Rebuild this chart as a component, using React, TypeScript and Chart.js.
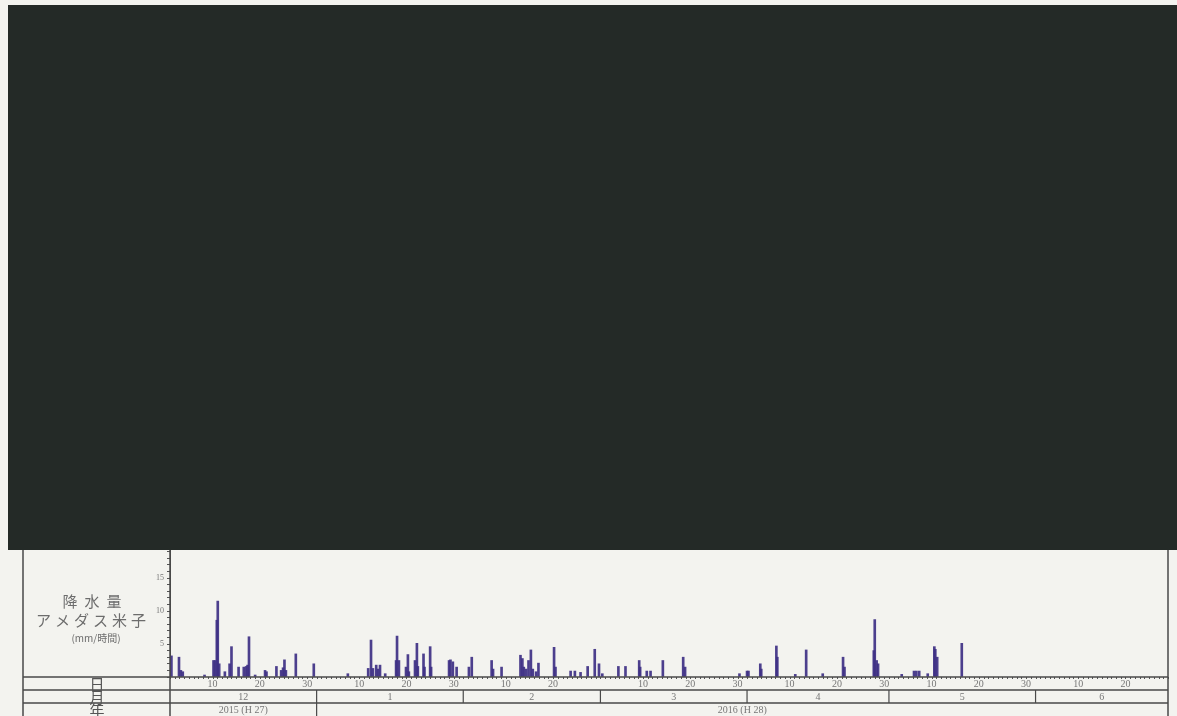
import React, { useEffect, useRef } from 'react';
import { Chart, registerables } from 'chart.js';

Chart.register(...registerables);

// ---- categories / labels ----
const monthLabels = ['12', '1', '2', '3', '4', '5', '6'];
const monthLengths = [31, 31, 29, 31, 30, 31, 28];
const yearLabels = ['2015 (H 27)', '2016 (H 28)'];
const yearMonthCounts = [1, 6];
const dayTickNumbers = [10, 20, 30];
const yTickLabels = [5, 10, 15];
const panelTitle = ['降水量', 'アメダス米子', '(mm/時間)'];
const rowHeaders = ['日', '月', '年'];

// ---- series: hourly precipitation (days since 2015-12-01 00:00, mm/h) ----
const rainDays = [
  0.3, 1.9, 2.3, 2.7, 7.3, 9.2, 9.5, 9.9, 10.1, 10.4, 11.6, 12.6, 13.0, 14.5,
  15.6, 16.1, 16.4, 16.7, 18.0, 20.1, 20.4, 22.5, 23.5, 23.9, 24.2, 24.5, 26.6,
  30.4, 37.6, 41.9, 42.5, 42.9, 43.6, 44.0, 44.4, 45.5, 47.8, 48.0, 48.4, 49.9,
  50.3, 50.5, 51.8, 52.2, 52.4, 53.6, 53.8, 55.0, 55.2, 59.0, 59.3, 59.8, 60.6,
  63.2, 63.8, 68.0, 68.3, 70.1, 74.1, 74.5, 74.8, 75.3, 75.8, 76.3, 76.7, 77.4,
  77.9, 81.2, 81.5, 84.7, 85.6, 86.8, 88.3, 89.8, 90.7, 91.4, 94.8, 96.3, 99.2,
  99.4, 100.8, 101.6, 104.2, 108.5, 108.9, 120.4, 122.0, 122.3, 124.8, 125.0,
  128.2, 128.4, 132.2, 134.5, 138.0, 142.3, 142.6, 148.8, 149.0, 149.4, 149.7,
  154.7, 157.3, 157.8, 158.4, 160.2, 161.6, 161.8, 162.2, 167.4,
];
const rainMm = [
  3.2, 3.0, 1.0, 0.8, 0.3, 2.5, 2.5, 8.6, 11.5, 2.0, 0.8, 2.0, 4.6, 1.5,
  1.5, 1.6, 1.8, 6.1, 0.3, 1.0, 0.8, 1.6, 1.0, 1.4, 2.6, 1.0, 3.5,
  2.0, 0.5, 1.3, 5.6, 1.3, 1.8, 1.2, 1.8, 0.5, 2.5, 6.2, 2.5, 1.5,
  3.4, 0.8, 2.5, 5.1, 1.6, 3.5, 1.5, 4.6, 1.5, 2.5, 2.6, 2.3, 1.5,
  1.5, 3.0, 2.5, 1.2, 1.5, 3.3, 2.8, 1.5, 1.2, 2.5, 4.1, 1.2, 0.8,
  2.1, 4.5, 1.5, 0.9, 0.9, 0.7, 1.6, 4.2, 2.0, 0.5, 1.6, 1.6, 2.5,
  1.5, 0.9, 0.9, 2.5, 3.0, 1.5, 0.5, 0.9, 0.9, 2.0, 1.2,
  4.7, 3.0, 0.4, 4.1, 0.5, 3.0, 1.5, 4.0, 8.7, 2.5, 2.0,
  0.4, 0.9, 0.9, 0.9, 0.5, 4.6, 4.2, 3.0, 5.1,
];

const monthStarts: number[] = [];
{
  let acc = 0;
  for (const len of monthLengths) {
    monthStarts.push(acc);
    acc += len;
  }
}
const totalDays = monthLengths.reduce((a, b) => a + b, 0);

const dayTickValues: number[] = [];
const dayTickText: string[] = [];
monthStarts.forEach((start, i) => {
  dayTickNumbers.forEach((d) => {
    if (d <= monthLengths[i]) {
      dayTickValues.push(start + d - 1);
      dayTickText.push(String(d));
    }
  });
});

const framePlugin = {
  id: 'framePlugin',
  beforeDraw(chart: any) {
    const ctx = chart.ctx;
    ctx.save();
    ctx.fillStyle = '#f3f3ef';
    ctx.fillRect(0, 0, chart.width, chart.height);
    ctx.restore();
  },
  afterDraw(chart: any) {
    const ctx = chart.ctx as CanvasRenderingContext2D;
    const area = chart.chartArea;
    const x = chart.scales.x;
    const L = 23;
    const R = area.right;
    const B = area.bottom;
    const rowH = 13;
    const H = chart.height;
    ctx.save();

    // day ticks along baseline
    ctx.strokeStyle = '#555';
    ctx.lineWidth = 1;
    for (let d = 0; d <= totalDays; d++) {
      const px = Math.round(x.getPixelForValue(d)) + 0.5;
      ctx.beginPath();
      ctx.moveTo(px, B);
      ctx.lineTo(px, B + 2);
      ctx.stroke();
    }

    // table lines
    ctx.strokeStyle = '#4a4a4a';
    ctx.lineWidth = 1.5;
    ctx.beginPath();
    [B, B + rowH, B + 2 * rowH].forEach((yy) => {
      ctx.moveTo(L, yy);
      ctx.lineTo(R, yy);
    });
    ctx.moveTo(L, area.top);
    ctx.lineTo(L, H);
    ctx.moveTo(area.left, area.top);
    ctx.lineTo(area.left, H);
    ctx.moveTo(R, area.top);
    ctx.lineTo(R, H);
    ctx.stroke();

    // month dividers
    ctx.lineWidth = 1.2;
    ctx.beginPath();
    monthStarts.forEach((s, i) => {
      if (i === 0) return;
      const px = x.getPixelForValue(s);
      ctx.moveTo(px, B + rowH);
      ctx.lineTo(px, B + 2 * rowH);
    });
    let ym = 0;
    yearMonthCounts.forEach((cnt, i) => {
      if (i > 0) {
        const px = x.getPixelForValue(monthStarts[ym]);
        ctx.moveTo(px, B + 2 * rowH);
        ctx.lineTo(px, H);
      }
      ym += cnt;
    });
    ctx.stroke();

    ctx.fillStyle = '#777';
    ctx.textAlign = 'center';
    ctx.textBaseline = 'middle';
    ctx.font = '10px "Liberation Serif", serif';
    // day labels
    dayTickValues.forEach((v, i) => {
      ctx.fillText(dayTickText[i], x.getPixelForValue(v), B + rowH * 0.5 + 1);
    });
    // month labels
    monthLabels.forEach((m, i) => {
      const c = x.getPixelForValue(monthStarts[i] + monthLengths[i] / 2);
      ctx.fillText(m, c, B + rowH * 1.5 + 0.5);
    });
    // year labels
    ym = 0;
    yearLabels.forEach((yl, i) => {
      const s = monthStarts[ym];
      const e = ym + yearMonthCounts[i] < monthStarts.length ? monthStarts[ym + yearMonthCounts[i]] : totalDays;
      const c = x.getPixelForValue((s + e) / 2);
      ctx.fillText(yl, c, B + rowH * 2.5 + 0.5);
      ym += yearMonthCounts[i];
    });

    // row headers
    ctx.fillStyle = '#555';
    ctx.font = '15px "Noto Sans CJK JP", sans-serif';
    rowHeaders.forEach((h, i) => {
      ctx.fillText(h, 97, B + rowH * (i + 0.5) + 0.5);
    });

    // panel title with letter spacing
    const drawSpaced = (text: string, cx: number, cy: number, font: string, spacing: number) => {
      ctx.font = font;
      const chars = Array.from(text);
      const widths = chars.map((c) => ctx.measureText(c).width);
      const total = widths.reduce((a, b) => a + b, 0) + spacing * (chars.length - 1);
      let px = cx - total / 2;
      ctx.textAlign = 'left';
      chars.forEach((c, i) => {
        ctx.fillText(c, px, cy);
        px += widths[i] + spacing;
      });
    };
    ctx.fillStyle = '#6c6c6c';
    drawSpaced(panelTitle[0], 92, 601, '15px "Noto Sans CJK JP", sans-serif', 7);
    drawSpaced(panelTitle[1], 91, 620, '15px "Noto Sans CJK JP", sans-serif', 4);
    drawSpaced(panelTitle[2], 96, 638, '10px "Noto Sans CJK JP", sans-serif', 0);

    // redacted dark block
    ctx.fillStyle = '#242a27';
    ctx.fillRect(8, 5, chart.width - 8, 545);
    ctx.restore();
  },
};

export default function App() {
  const ref = useRef<HTMLCanvasElement | null>(null);
  useEffect(() => {
    if (!ref.current) return;
    const chart = new Chart(ref.current, {
      type: 'bar',
      data: {
        datasets: [
          {
            label: '降水量',
            data: rainDays.map((d, i) => ({ x: d, y: rainMm[i] })),
            backgroundColor: 'rgba(62,48,132,0.92)',
            borderWidth: 0,
            barThickness: 2,
            grouped: false,
          } as any,
        ],
      },
      options: {
        animation: false,
        responsive: false,
        devicePixelRatio: 1,
        layout: { padding: { left: 150, top: 545, right: 9, bottom: 26 } },
        plugins: { legend: { display: false }, tooltip: { enabled: false } },
        scales: {
          x: {
            type: 'linear',
            offset: false,
            min: 0,
            max: totalDays,
            grid: { display: false, offset: false },
            border: { display: false },
            afterFit: (axis: any) => {
              axis.height = 13;
            },
            ticks: { display: false },
          },
          y: {
            min: 0,
            max: 20,
            afterFit: (axis: any) => {
              axis.width = 20;
            },
            grid: { drawOnChartArea: false, tickLength: 3, color: '#555' },
            border: { display: true, color: '#444', width: 1 },
            ticks: {
              stepSize: 1,
              autoSkip: false,
              padding: 3,
              color: '#777',
              font: { size: 8, family: '"Liberation Serif", serif' },
              callback: (v: any) => (yTickLabels.includes(v) ? String(v) : ''),
            },
          },
        },
      },
      plugins: [framePlugin],
    });
    return () => chart.destroy();
  }, []);
  return (
    <div style={{ position: 'absolute', left: 0, top: 0, width: 1177, height: 716 }}>
      <canvas ref={ref} width={1177} height={716} style={{ width: 1177, height: 716, display: 'block' }} />
    </div>
  );
}
